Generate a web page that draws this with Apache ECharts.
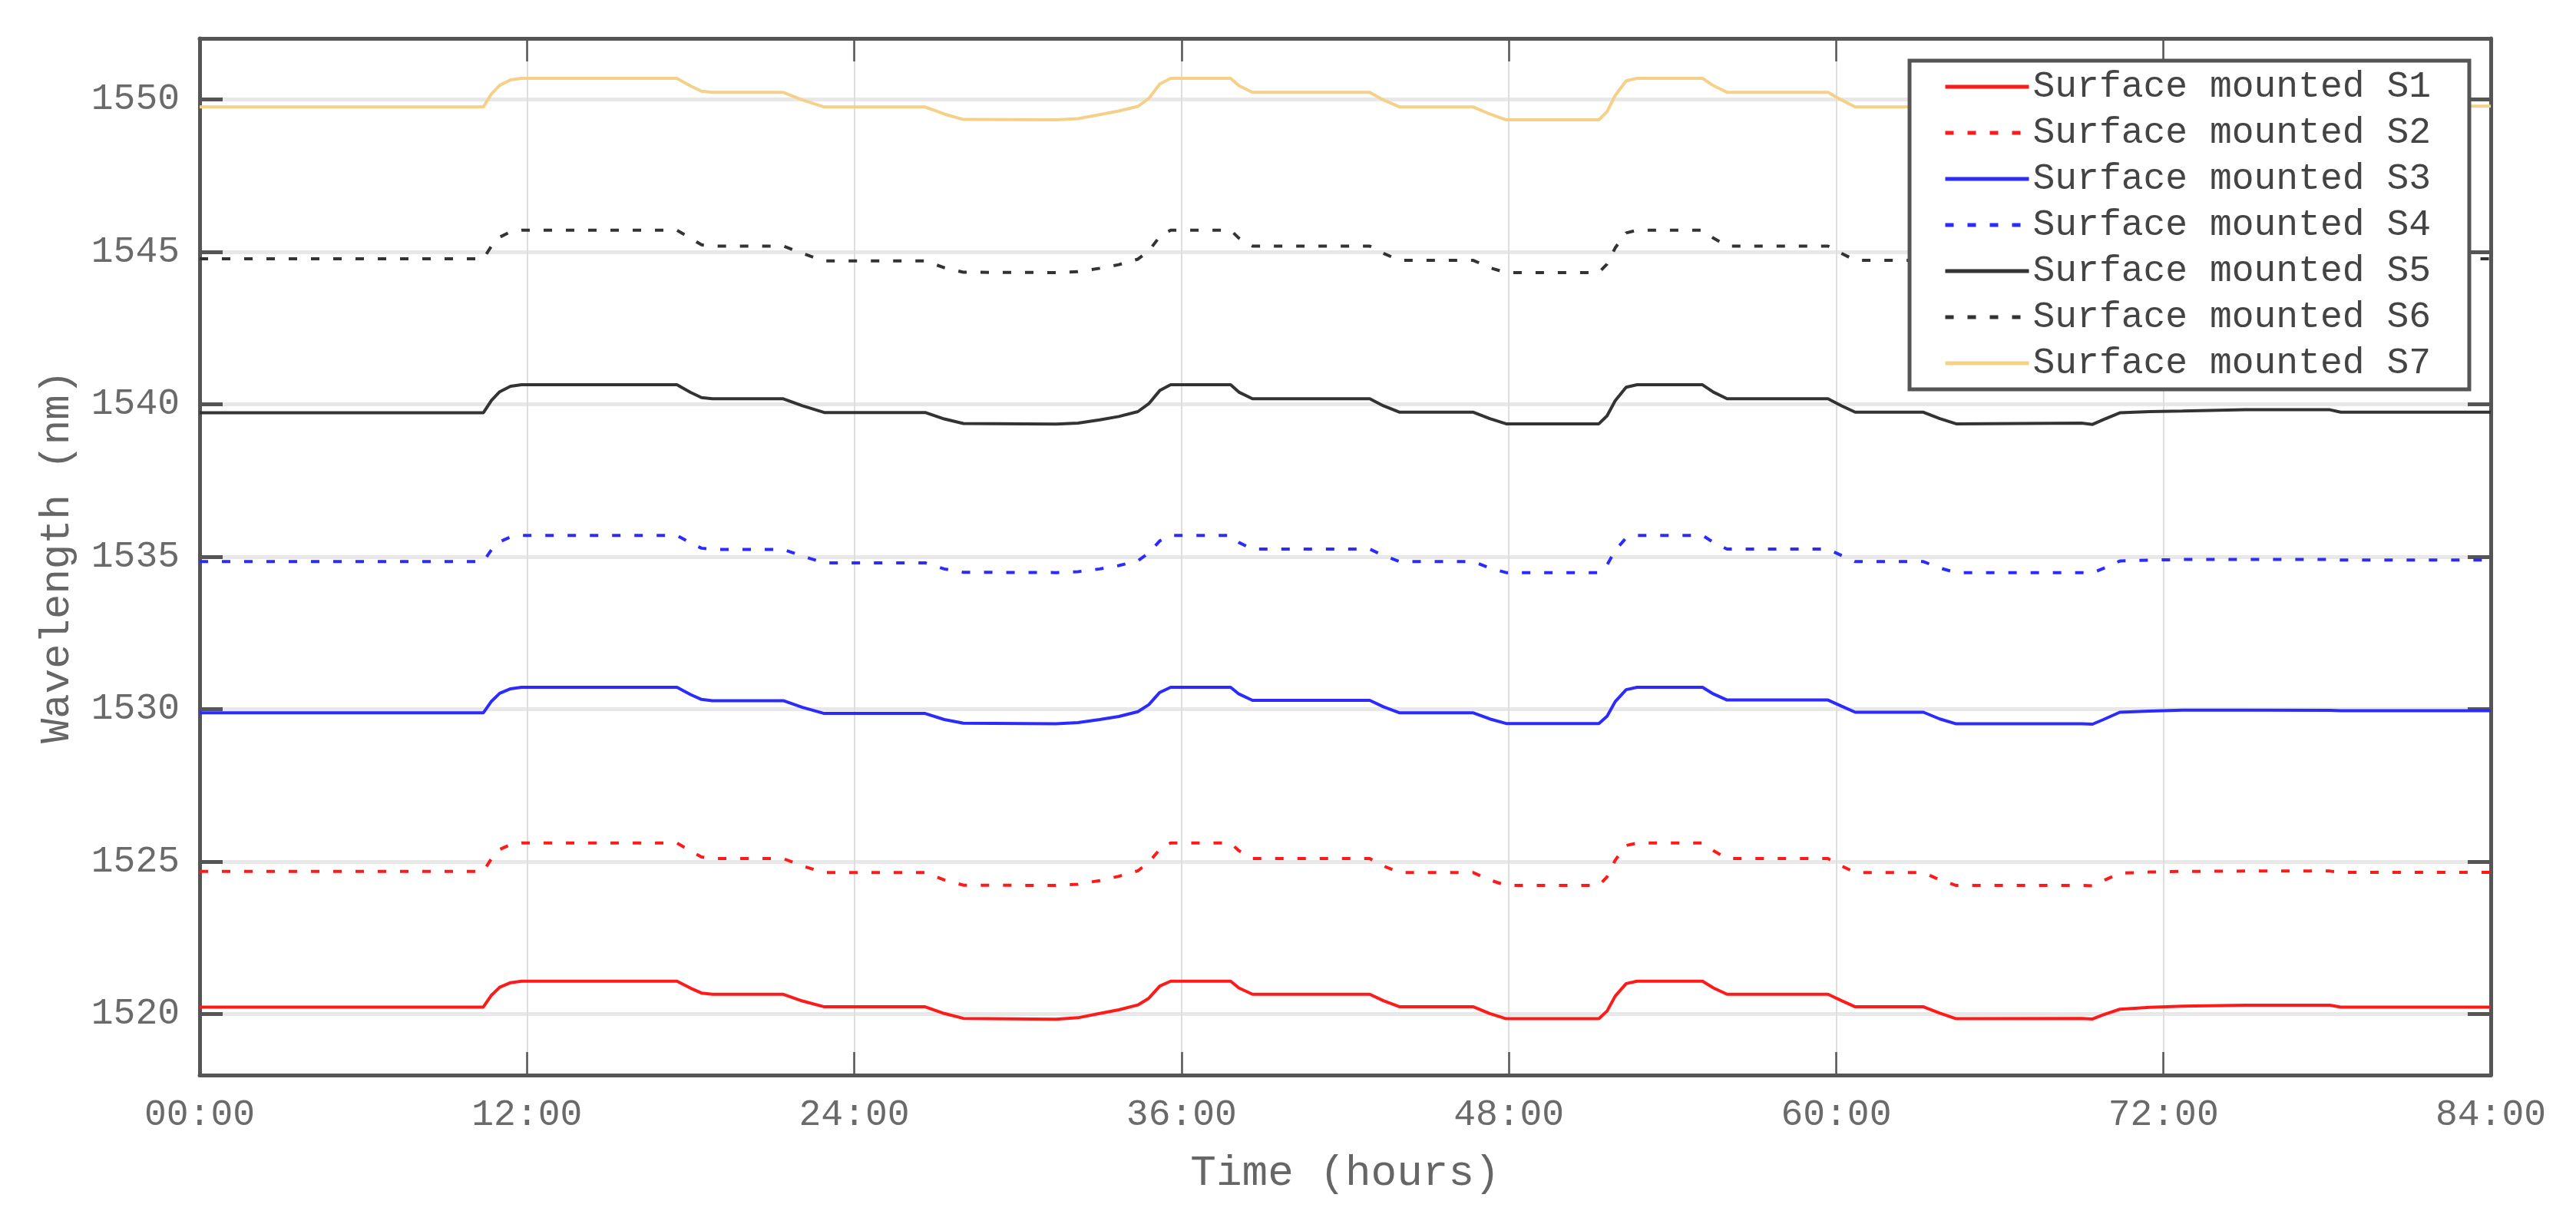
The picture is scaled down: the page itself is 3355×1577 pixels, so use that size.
<!DOCTYPE html>
<html>
<head>
<meta charset="utf-8">
<script src="https://cdn.jsdelivr.net/npm/echarts/dist/echarts.min.js"></script>
<style>
  html, body { margin: 0; padding: 0; background: #ffffff; }
  #chart { width: 3355px; height: 1577px; }
</style>
</head>
<body>
<div id="chart"></div>
<script>
// ---- Data ----
const seriesNames = ['Surface mounted S1','Surface mounted S2','Surface mounted S3','Surface mounted S4','Surface mounted S5','Surface mounted S6','Surface mounted S7'];
const xTickLabels = ['00:00','12:00','24:00','36:00','48:00','60:00','72:00','84:00'];
const yTicks = [1520, 1525, 1530, 1535, 1540, 1545, 1550];

// time in hours
const timeHours = [0, 10.4, 10.7, 11.0, 11.4, 11.8, 17.5, 18.0, 18.4, 18.8, 21.4, 22.1, 22.9, 26.6, 27.3, 28.0, 31.4, 32.2, 33.0, 33.7, 34.4, 34.8, 35.2, 35.6, 37.8, 38.1, 38.6, 42.9, 43.4, 44.0, 46.7, 47.3, 47.9, 51.3, 51.6, 51.9, 52.3, 52.7, 55.1, 55.5, 56.0, 59.7, 60.2, 60.7, 63.2, 63.8, 64.4, 69.0, 69.4, 69.8, 70.4, 71.5, 72.7, 75.0, 78.1, 78.5, 84];

const s1 = [1520.23,1520.23,1520.62,1520.88,1521.03,1521.08,1521.08,1520.85,1520.69,1520.65,1520.65,1520.43,1520.24,1520.24,1520.02,1519.86,1519.83,1519.88,1520.02,1520.14,1520.30,1520.52,1520.92,1521.08,1521.08,1520.86,1520.65,1520.65,1520.44,1520.24,1520.24,1520.02,1519.85,1519.85,1520.10,1520.59,1521.00,1521.08,1521.08,1520.86,1520.65,1520.65,1520.44,1520.24,1520.24,1520.03,1519.85,1519.86,1519.84,1519.98,1520.16,1520.22,1520.26,1520.29,1520.29,1520.23,1520.23];
const s2 = [1524.68,1524.68,1525.10,1525.40,1525.56,1525.61,1525.61,1525.35,1525.15,1525.10,1525.10,1524.86,1524.64,1524.64,1524.40,1524.23,1524.22,1524.26,1524.38,1524.52,1524.70,1524.98,1525.40,1525.61,1525.61,1525.36,1525.10,1525.10,1524.86,1524.64,1524.64,1524.40,1524.22,1524.22,1524.50,1525.05,1525.53,1525.61,1525.61,1525.36,1525.10,1525.10,1524.86,1524.64,1524.64,1524.40,1524.22,1524.22,1524.21,1524.38,1524.62,1524.66,1524.68,1524.69,1524.69,1524.65,1524.65];
const s3 = [1529.88,1529.88,1530.26,1530.52,1530.67,1530.72,1530.72,1530.48,1530.32,1530.28,1530.28,1530.06,1529.86,1529.86,1529.66,1529.54,1529.52,1529.56,1529.66,1529.76,1529.92,1530.15,1530.55,1530.72,1530.72,1530.50,1530.29,1530.29,1530.08,1529.88,1529.88,1529.68,1529.53,1529.53,1529.77,1530.25,1530.64,1530.72,1530.72,1530.50,1530.30,1530.30,1530.10,1529.90,1529.90,1529.68,1529.52,1529.52,1529.51,1529.66,1529.90,1529.94,1529.97,1529.97,1529.96,1529.95,1529.95];
const s4 = [1534.84,1534.84,1535.23,1535.49,1535.65,1535.70,1535.70,1535.45,1535.28,1535.24,1535.24,1535.02,1534.80,1534.80,1534.60,1534.49,1534.48,1534.51,1534.60,1534.71,1534.87,1535.12,1535.52,1535.70,1535.70,1535.47,1535.25,1535.25,1535.04,1534.84,1534.84,1534.63,1534.48,1534.48,1534.73,1535.21,1535.62,1535.70,1535.70,1535.47,1535.25,1535.25,1535.04,1534.84,1534.84,1534.63,1534.48,1534.48,1534.47,1534.62,1534.86,1534.89,1534.91,1534.91,1534.91,1534.89,1534.89];
const s5 = [1539.72,1539.72,1540.13,1540.41,1540.59,1540.64,1540.64,1540.39,1540.22,1540.18,1540.18,1539.95,1539.73,1539.73,1539.52,1539.37,1539.35,1539.38,1539.49,1539.60,1539.76,1540.02,1540.45,1540.64,1540.64,1540.40,1540.18,1540.18,1539.95,1539.74,1539.74,1539.53,1539.36,1539.36,1539.62,1540.12,1540.56,1540.64,1540.64,1540.40,1540.18,1540.18,1539.95,1539.74,1539.74,1539.53,1539.36,1539.38,1539.34,1539.50,1539.72,1539.76,1539.78,1539.82,1539.82,1539.74,1539.74];
const s6 = [1544.77,1544.77,1545.19,1545.48,1545.66,1545.71,1545.71,1545.45,1545.23,1545.19,1545.19,1544.95,1544.70,1544.70,1544.48,1544.33,1544.32,1544.35,1544.46,1544.58,1544.76,1545.03,1545.50,1545.71,1545.71,1545.45,1545.19,1545.19,1544.95,1544.72,1544.72,1544.48,1544.32,1544.32,1544.60,1545.13,1545.62,1545.71,1545.71,1545.45,1545.19,1545.19,1544.95,1544.72,1544.72,1544.48,1544.32,1544.32,1544.31,1544.47,1544.72,1544.76,1544.78,1544.80,1544.80,1544.77,1544.77];
const s7 = [1549.75,1549.75,1550.18,1550.46,1550.64,1550.69,1550.69,1550.44,1550.27,1550.23,1550.23,1549.98,1549.75,1549.75,1549.52,1549.34,1549.33,1549.37,1549.50,1549.62,1549.77,1550.03,1550.50,1550.69,1550.69,1550.45,1550.23,1550.23,1549.98,1549.75,1549.75,1549.52,1549.33,1549.33,1549.60,1550.13,1550.61,1550.69,1550.69,1550.45,1550.23,1550.23,1549.98,1549.75,1549.75,1549.52,1549.33,1549.33,1549.32,1549.48,1549.73,1549.77,1549.79,1549.81,1549.81,1549.78,1549.78];

const seriesValues = [s1, s2, s3, s4, s5, s6, s7];
const seriesColors = ['#ff1a1a', '#ff1a1a', '#2b2bff', '#2b2bff', '#333333', '#333333', '#f6d089'];
const seriesDash = ['solid', [11, 18], 'solid', [11, 18], 'solid', [11, 18], 'solid'];

// ---- Chart ----
const FONT = 'Liberation Mono';
const chart = echarts.init(document.getElementById('chart'), null, { renderer: 'canvas' });

const series = seriesNames.map((name, k) => ({
  name: name,
  type: 'line',
  xAxisIndex: 0,
  yAxisIndex: 0,
  symbol: 'none',
  showSymbol: false,
  smooth: false,
  lineStyle: { color: seriesColors[k], width: 4, type: seriesDash[k] },
  itemStyle: { color: seriesColors[k] },
  data: timeHours.map((t, i) => [t, seriesValues[k][i]])
}));

const axisLineStyle = { color: '#555555', width: 5 };

chart.setOption({
  animation: false,
  backgroundColor: '#ffffff',
  grid: { left: 260, right: 111, top: 50, bottom: 177, containLabel: false },
  xAxis: [
    {
      type: 'value', min: 0, max: 84, interval: 12, position: 'bottom',
      name: 'Time (hours)', nameLocation: 'middle', nameGap: 100,
      nameTextStyle: { fontFamily: FONT, fontSize: 56, color: '#666666' },
      axisLine: { show: true, onZero: false, lineStyle: axisLineStyle },
      axisTick: { show: true, inside: true, length: 30, lineStyle: { color: '#555555', width: 2.5 } },
      axisLabel: {
        show: true, margin: 28, fontFamily: FONT, fontSize: 48, color: '#6a6a6a',
        formatter: v => xTickLabels[Math.round(v / 12)]
      },
      splitLine: { show: true, lineStyle: { color: '#dedede', width: 2 } }
    },
    {
      type: 'value', min: 0, max: 84, interval: 12, position: 'top',
      axisLine: { show: true, onZero: false, lineStyle: axisLineStyle },
      axisTick: { show: true, inside: true, length: 30, lineStyle: { color: '#555555', width: 2.5 } },
      axisLabel: { show: false },
      splitLine: { show: false }
    }
  ],
  yAxis: [
    {
      type: 'value', min: 1518, max: 1552, interval: 5, position: 'left',
      name: 'Wavelength (nm)', nameLocation: 'middle', nameGap: 158, nameRotate: 90,
      nameTextStyle: { fontFamily: FONT, fontSize: 54, color: '#666666' },
      axisLine: { show: true, onZero: false, lineStyle: axisLineStyle },
      axisTick: { show: true, inside: true, length: 30, lineStyle: { color: '#555555', width: 5 },
        customValues: yTicks },
      axisLabel: {
        show: true, margin: 26, fontFamily: FONT, fontSize: 48, color: '#6a6a6a',
        customValues: yTicks,
        formatter: v => String(Math.round(v))
      },
      splitLine: { show: true, lineStyle: { color: '#e8e8e8', width: 5 } }
    },
    {
      type: 'value', min: 1518, max: 1552, interval: 5, position: 'right',
      axisLine: { show: true, onZero: false, lineStyle: axisLineStyle },
      axisTick: { show: true, inside: true, length: 30, lineStyle: { color: '#555555', width: 5 },
        customValues: yTicks },
      axisLabel: { show: false },
      splitLine: { show: false }
    }
  ],
  legend: {
    show: true,
    orient: 'vertical',
    left: 2487, top: 79,
    padding: [10, 50, 10, 44],
    itemGap: 12,
    itemWidth: 109, itemHeight: 20,
    backgroundColor: '#ffffff',
    borderColor: '#555555', borderWidth: 5,
    selectedMode: false,
    itemStyle: { opacity: 0 },
    lineStyle: { width: 5 },
    textStyle: { fontFamily: FONT, fontSize: 48, lineHeight: 48, color: '#444444' },
    data: seriesNames.map(n => ({ name: n }))
  },
  series: series
});
</script>
</body>
</html>
